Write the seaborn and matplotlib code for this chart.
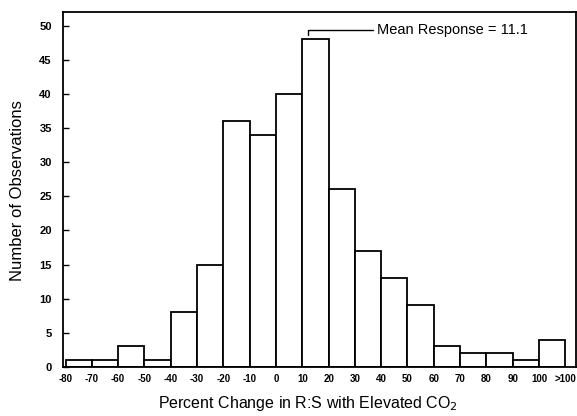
import numpy as np
import pandas as pd
import matplotlib
matplotlib.use('Agg')
import matplotlib.pyplot as plt
import seaborn as sns

# bin edges (percent change) and counts
bin_edges = [-80, -70, -60, -50, -40, -30, -20, -10, 0, 10, 20, 30, 40, 50, 60, 70, 80, 90, 100, 110]
counts = [1, 1, 3, 1, 8, 15, 36, 34, 40, 48, 26, 17, 13, 9, 3, 2, 2, 1, 4]
tick_labels = ['-80', '-70', '-60', '-50', '-40', '-30', '-20', '-10', '0', '10', '20',
               '30', '40', '50', '60', '70', '80', '90', '100', '>100']
mean_response = 11.1

sns.set_style('ticks')
plt.rcParams['font.family'] = ['Liberation Sans', 'DejaVu Sans']
plt.rcParams['text.color'] = 'black'
plt.rcParams['axes.labelcolor'] = 'black'
plt.rcParams['xtick.color'] = 'black'
plt.rcParams['ytick.color'] = 'black'
plt.rcParams['axes.edgecolor'] = 'black'

df = pd.DataFrame({
    'center': [(a + b) / 2 for a, b in zip(bin_edges[:-1], bin_edges[1:])],
    'count': counts,
})

fig = plt.figure(figsize=(5.77, 4.16), dpi=100)
ax = fig.add_axes([0.109, 0.118, 0.889, 0.853])

sns.histplot(data=df, x='center', weights='count', bins=bin_edges, ax=ax,
             color='white', edgecolor='black', linewidth=1.3, alpha=1)

ax.set_xlim(-81, 114)
ax.set_ylim(0, 52)
ax.set_xticks(bin_edges)
ax.set_xticklabels(tick_labels, fontsize=7, fontweight='bold')
ax.set_yticks(range(0, 55, 5))
ax.set_yticklabels([str(v) for v in range(0, 55, 5)], fontsize=8, fontweight='bold')
ax.tick_params(axis='y', direction='in', length=4, width=1, pad=8)
ax.tick_params(axis='x', length=0, pad=5)
for s in ax.spines.values():
    s.set_linewidth(1.3)

ax.set_xlabel('')
ax.set_ylabel('')
fig.text(0.534, 0.029, 'Percent Change in R:S with Elevated CO$_2$', fontsize=11.5,
         ha='center', va='center')
fig.text(0.031, 0.541, 'Number of Observations', fontsize=12, rotation=90,
         ha='center', va='center')

# bracket marking the mean response
ax.plot([mean_response + 1, mean_response + 1, 37], [48.6, 49.4, 49.4], color='black', lw=1)
ax.text(38.5, 49.3, 'Mean Response = 11.1', fontsize=10.5, va='center', ha='left')

fig.savefig('out.png', dpi=100, facecolor='white')
